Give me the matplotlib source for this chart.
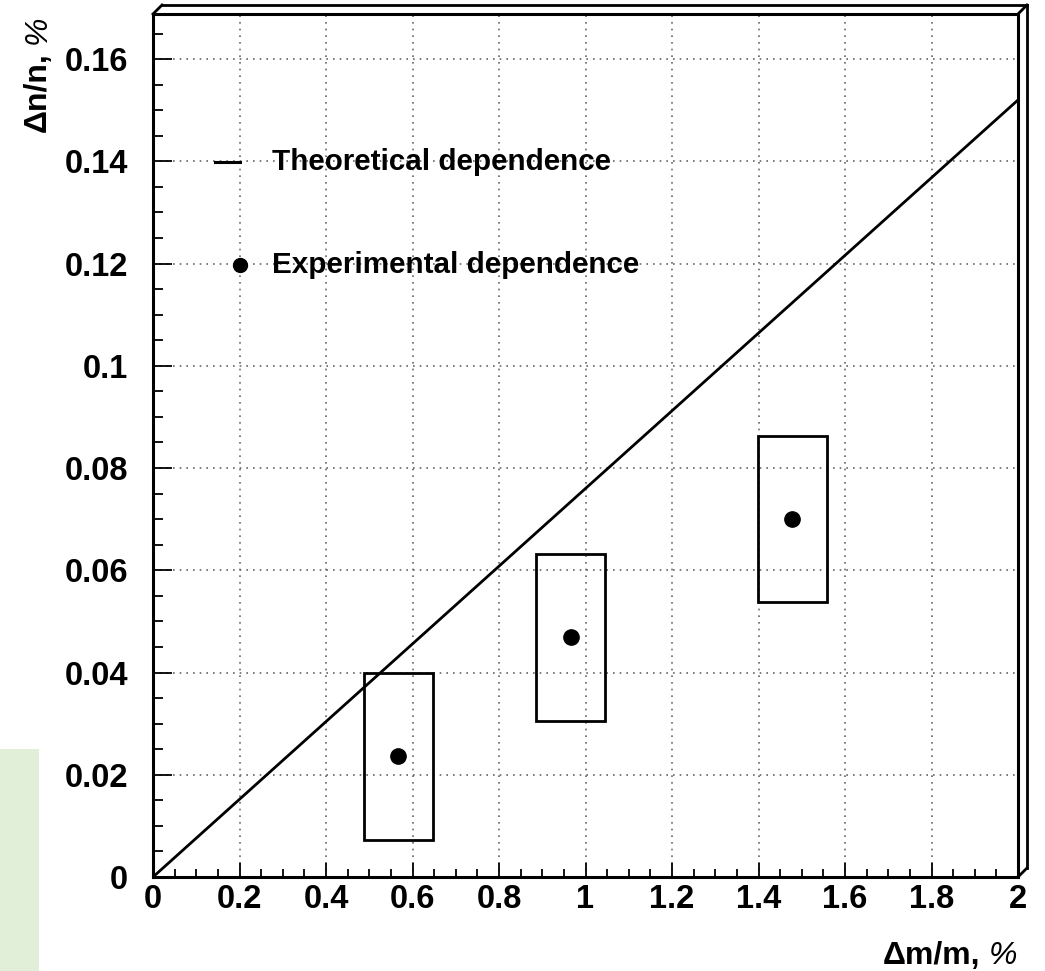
import matplotlib
matplotlib.use('Agg')
import numpy as np
from matplotlib import pyplot as plt
from matplotlib.patches import Rectangle
from matplotlib.lines import Line2D
from matplotlib.ticker import MultipleLocator

plt.rcParams['font.family'] = ['Liberation Sans', 'DejaVu Sans']

# theoretical dependence (straight line)
theory_x = [0.0, 2.0]
theory_y = [0.0, 0.152]

# experimental points and half-widths of the error boxes
exp_x = [0.567, 0.966, 1.478]
exp_y = [0.0236, 0.0469, 0.0700]
exp_dx = [0.08, 0.08, 0.08]
exp_dy = [0.0163, 0.0163, 0.0163]

x_ticks = [0, 0.2, 0.4, 0.6, 0.8, 1, 1.2, 1.4, 1.6, 1.8, 2]
x_labels = ['0', '0.2', '0.4', '0.6', '0.8', '1', '1.2', '1.4', '1.6', '1.8', '2']
y_ticks = [0, 0.02, 0.04, 0.06, 0.08, 0.1, 0.12, 0.14, 0.16]
y_labels = ['0', '0.02', '0.04', '0.06', '0.08', '0.1', '0.12', '0.14', '0.16']

fig = plt.figure(figsize=(10.45, 9.71), dpi=100)
W, H = 1045.0, 971.0
L, R, T, B = 153, 1018, 14, 877
ax = fig.add_axes([L / W, 1 - B / H, (R - L) / W, (B - T) / H])

# light green strip at lower left of the page
fig.patches.append(Rectangle((0, 0), 39 / W, (971 - 749) / H, transform=fig.transFigure,
                             facecolor='#e1eed8', edgecolor='none', zorder=-5))

ax.set_xlim(0, 2)
ax.set_ylim(0, (B - T) / 5112.0)

ax.set_xticks(x_ticks)
ax.set_xticklabels(x_labels)
ax.set_yticks(y_ticks)
ax.set_yticklabels(y_labels)
ax.xaxis.set_minor_locator(MultipleLocator(0.05))
ax.yaxis.set_minor_locator(MultipleLocator(0.005))
for lab in ax.get_xticklabels() + ax.get_yticklabels():
    lab.set_fontweight('bold')
    lab.set_fontsize(23.5)
ax.tick_params(axis='x', which='major', direction='in', length=10, width=1.3, pad=5)
ax.tick_params(axis='x', which='minor', direction='in', length=6, width=1.3)
ax.tick_params(axis='y', which='major', direction='in', length=14, width=1.3, pad=18)
ax.tick_params(axis='y', which='minor', direction='in', length=7, width=1.3)

ax.grid(True, which='major', color='#666666', linestyle=(0, (1, 3)), linewidth=1.2)
for s in ax.spines.values():
    s.set_linewidth(2.2)

# frame shadow (top and right)
d = 9
shadow = [((L, T), (L + d, T - d)), ((L + d, T - d), (R + d, T - d)),
          ((R, T), (R + d, T - d)), ((R + d, T - d), (R + d, B - d)), ((R + d, B - d), (R, B))]
for (x0, y0), (x1, y1) in shadow:
    fig.add_artist(Line2D([x0 / W, x1 / W], [1 - y0 / H, 1 - y1 / H], transform=fig.transFigure,
                          color='black', linewidth=2.0, solid_capstyle='projecting'))

ax.plot(theory_x, theory_y, color='black', linewidth=2.0, zorder=3)

for x, y, dx, dy in zip(exp_x, exp_y, exp_dx, exp_dy):
    ax.add_patch(Rectangle((x - dx, y - dy), 2 * dx, 2 * dy, fill=False,
                           edgecolor='black', linewidth=2.0, zorder=3))
ax.plot(exp_x, exp_y, 'o', color='black', markersize=11, zorder=4)

# legend
ax.plot([0.143, 0.201], [0.1399, 0.1399], color='black', linewidth=2.2, clip_on=False)
ax.plot([0.201], [0.1197], 'o', color='black', markersize=10)
ax.text(0.275, 0.1399, 'Theoretical dependence', fontsize=21.3, fontweight='bold', va='center', ha='left')
ax.text(0.275, 0.1197, 'Experimental dependence', fontsize=21.3, fontweight='bold', va='center', ha='left')

# axis titles: bold part plus a light italic "%"
fs_lab = 23
xl = fig.text(1017 / W, 1 - 964 / H, '%', fontsize=fs_lab, style='italic', ha='right', va='baseline')
yl = fig.text(46 / W, 1 - 16 / H, '%', fontsize=fs_lab, style='italic', rotation=90,
              rotation_mode='anchor', ha='right', va='baseline')
fig.canvas.draw()
rend = fig.canvas.get_renderer()
ex = xl.get_window_extent(rend)
fig.text(ex.x0 / W - 8 / W, 1 - 964 / H, '\u0394m/m,', fontsize=fs_lab, fontweight='bold',
         ha='right', va='baseline')
ey = yl.get_window_extent(rend)
fig.text(46 / W, ey.y0 / H - 8 / H, '\u0394n/n,', fontsize=fs_lab, fontweight='bold', rotation=90,
         rotation_mode='anchor', ha='right', va='baseline')

fig.savefig('out.png', dpi=100)
